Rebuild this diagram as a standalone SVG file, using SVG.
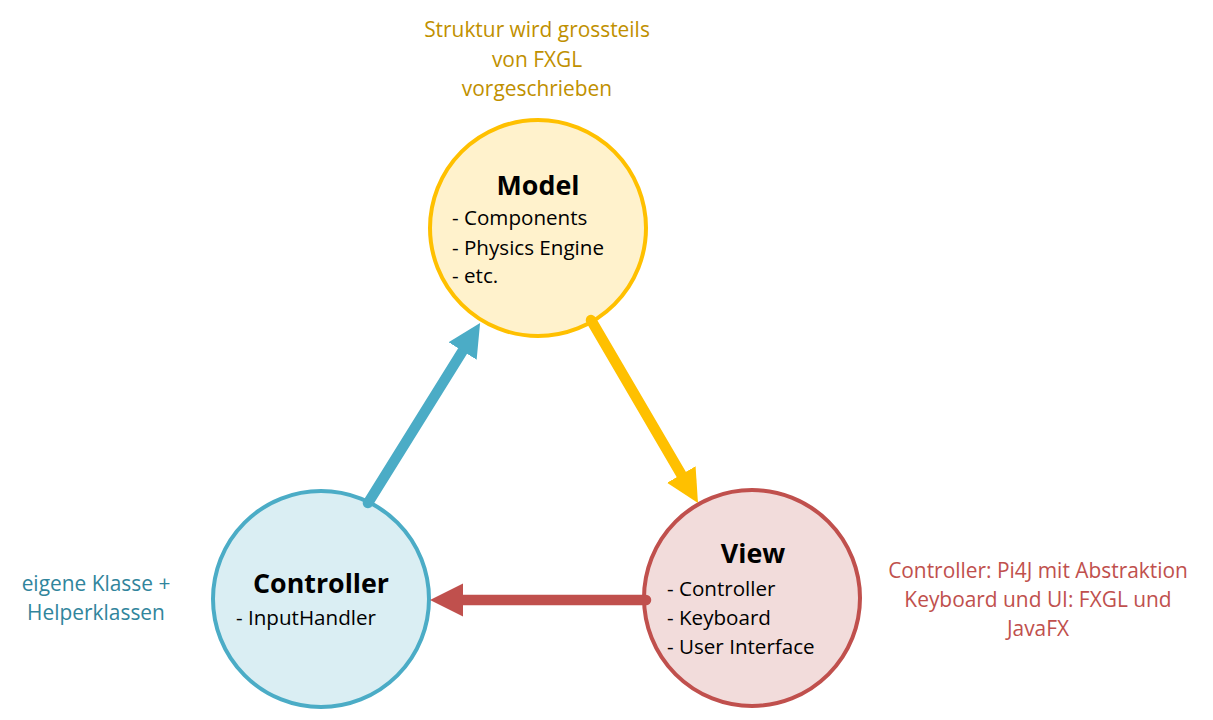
<svg xmlns="http://www.w3.org/2000/svg" width="1213" height="720" viewBox="0 0 1213 720">
<style>
text{font-family:"Open Sans","Liberation Sans",Arial,sans-serif;font-size:20.6px;fill:#000}
.title{font-weight:bold;font-size:26.8px;text-anchor:middle}
.note{text-anchor:middle;font-size:20.9px}
.c{stroke-width:4}
.conn{stroke-width:10.5;stroke-linecap:round;fill:none}
</style>
<defs>
<marker id="hb" viewBox="0 0 10 10" refX="0" refY="5" markerWidth="3.15" markerHeight="3.2" markerUnits="strokeWidth" orient="auto"><path d="M0,0 L10,5 L0,10 z" fill="#4BACC6"/></marker>
<marker id="hy" viewBox="0 0 10 10" refX="0" refY="5" markerWidth="3.15" markerHeight="3.2" markerUnits="strokeWidth" orient="auto"><path d="M0,0 L10,5 L0,10 z" fill="#FFC000"/></marker>
<marker id="hr" viewBox="0 0 10 10" refX="0" refY="5" markerWidth="3.15" markerHeight="3.2" markerUnits="strokeWidth" orient="auto"><path d="M0,0 L10,5 L0,10 z" fill="#C0504D"/></marker>
</defs>
<g id="model">
<circle class="c" cx="538" cy="228" r="108" fill="#FFF2CC" stroke="#FFC000"/>
<text class="title" x="538" y="195">Model</text>
<text x="452" y="225">- Components</text>
<text x="452" y="255">- Physics Engine</text>
<text x="452" y="283">- etc.</text>
</g>
<g id="controller">
<circle class="c" cx="321" cy="599" r="108" fill="#DAEEF3" stroke="#4BACC6"/>
<text class="title" x="321" y="593">Controller</text>
<text x="236" y="625">- InputHandler</text>
</g>
<g id="view">
<circle class="c" cx="752" cy="598" r="108" fill="#F2DCDB" stroke="#C0504D"/>
<text class="title" x="753" y="563">View</text>
<text x="667" y="596">- Controller</text>
<text x="667" y="625">- Keyboard</text>
<text x="667" y="654">- User Interface</text>
</g>
<g id="connectors">
<line class="conn" x1="368" y1="503" x2="462.6" y2="351" stroke="#4BACC6" marker-end="url(#hb)"/>
<line class="conn" x1="591" y1="320" x2="681.3" y2="474.5" stroke="#FFC000" marker-end="url(#hy)"/>
<line class="conn" x1="646" y1="600" x2="463" y2="600" stroke="#C0504D" marker-end="url(#hr)"/>
</g>
<g id="notes">
<text class="note" x="537" y="37" style="fill:#BF9000">Struktur wird grossteils</text>
<text class="note" x="537" y="67" style="fill:#BF9000">von FXGL</text>
<text class="note" x="537" y="96" style="fill:#BF9000">vorgeschrieben</text>
<text class="note" x="96" y="591" style="fill:#31859C">eigene Klasse +</text>
<text class="note" x="96" y="620" style="fill:#31859C">Helperklassen</text>
<text class="note" x="1038" y="578" style="fill:#C0504D">Controller: Pi4J mit Abstraktion</text>
<text class="note" x="1038" y="607" style="fill:#C0504D">Keyboard und UI: FXGL und</text>
<text class="note" x="1038" y="636" style="fill:#C0504D">JavaFX</text>
</g>
</svg>
